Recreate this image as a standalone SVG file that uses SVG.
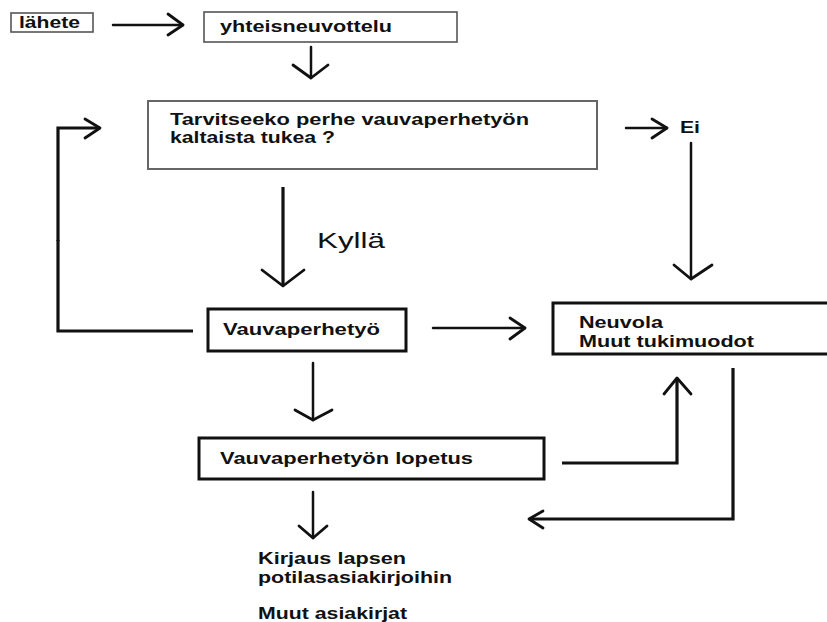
<svg xmlns="http://www.w3.org/2000/svg" width="827" height="622" viewBox="0 0 827 622">
<style>
.t{font-family:"Liberation Sans",Arial,sans-serif;font-weight:bold;font-size:16px;fill:#111}
.k{font-family:"Liberation Sans",Arial,sans-serif;font-size:22px;fill:#111}
.thin{fill:#fff;stroke:#555;stroke-width:1.6}
.mid{fill:#fff;stroke:#666;stroke-width:2}
.thick{fill:#fff;stroke:#111;stroke-width:3}
.c{fill:none;stroke:#111;stroke-width:2.5;stroke-linecap:round;stroke-linejoin:miter}
.c3{fill:none;stroke:#111;stroke-width:3.2;stroke-linejoin:miter}
.h{fill:none;stroke:#111;stroke-width:2.8;stroke-linecap:round;stroke-linejoin:round}
</style>
<rect width="827" height="622" fill="#fff"/>
<g id="connectors">
  <g id="c-lahete-yht"><path class="c" d="M113,25 H183"/><path class="h" d="M168,14 L183,25 L168,35"/></g>
  <g id="c-yht-tarv"><path class="c" d="M311,47 V78"/><path class="h" d="M293,65 L311,78 L328,65"/></g>
  <g id="c-kylla"><path class="c3" d="M283,187 V286"/><path class="h" d="M262,270 L283,286 L304,270"/></g>
  <g id="c-ei"><path class="c" d="M626,128 H667"/><path class="h" d="M652,119 L667,128 L652,138"/></g>
  <g id="c-ei-neuvola"><path class="c" d="M691,143 V279"/><path class="h" d="M674,265 L691,279 L712,265"/></g>
  <g id="c-loop"><path class="c3" d="M193,331 H58 V240" stroke-width="4"/><path class="c3" d="M58,241 V128 H100" stroke-width="2.8"/><path class="h" d="M85,119 L100,128 L85,138"/></g>
  <g id="c-vauva-neuvola"><path class="c" d="M433,328 H525"/><path class="h" d="M510,318 L525,328 L510,339"/></g>
  <g id="c-vauva-lopetus"><path class="c" d="M313,363 V420"/><path class="h" d="M295,410 L313,420 L332,410"/></g>
  <g id="c-lopetus-neuvola"><path class="c3" d="M562,463 H677 V378"/><path class="h" d="M664,394 L677,378 L691,394"/></g>
  <g id="c-neuvola-back"><path class="c3" d="M733,368 V519 H529"/><path class="h" d="M543,511 L529,519 L543,528"/></g>
  <g id="c-lopetus-kirjaus"><path class="c" d="M313,492 V538"/><path class="h" d="M299,526 L313,538 L327,526"/></g>
</g>
<g id="lahete"><rect class="thin" x="11" y="13" width="82" height="19"/><text class="t" x="19" y="28" textLength="61" lengthAdjust="spacingAndGlyphs">lähete</text></g>
<g id="yhteisneuvottelu"><rect class="thin" x="204" y="12" width="253" height="30"/><text class="t" x="220" y="32" textLength="172" lengthAdjust="spacingAndGlyphs">yhteisneuvottelu</text></g>
<g id="tarvitseeko"><rect class="mid" x="148" y="101" width="449" height="68"/>
  <text class="t" x="170" y="125" textLength="359" lengthAdjust="spacingAndGlyphs">Tarvitseeko perhe vauvaperhetyön</text>
  <text class="t" x="170" y="143" textLength="165" lengthAdjust="spacingAndGlyphs">kaltaista tukea ?</text></g>
<g id="kylla"><text class="k" x="317" y="248" textLength="68" lengthAdjust="spacingAndGlyphs">Kyllä</text></g>
<g id="ei"><text class="t" x="680" y="133" textLength="20" lengthAdjust="spacingAndGlyphs">Ei</text></g>
<g id="vauvaperhetyo"><rect class="thick" x="208" y="309" width="198" height="42"/><text class="t" x="223" y="335" textLength="157" lengthAdjust="spacingAndGlyphs">Vauvaperhetyö</text></g>
<g id="neuvola"><rect class="thick" x="553" y="303" width="280" height="51"/>
  <text class="t" x="579" y="328" textLength="84" lengthAdjust="spacingAndGlyphs">Neuvola</text>
  <text class="t" x="579" y="347" textLength="175" lengthAdjust="spacingAndGlyphs">Muut tukimuodot</text></g>
<g id="lopetus"><rect class="thick" x="199" y="438" width="345" height="41"/><text class="t" x="220" y="464" textLength="253" lengthAdjust="spacingAndGlyphs">Vauvaperhetyön lopetus</text></g>
<g id="kirjaus">
  <text class="t" x="258" y="564" textLength="148" lengthAdjust="spacingAndGlyphs">Kirjaus lapsen</text>
  <text class="t" x="258" y="583" textLength="194" lengthAdjust="spacingAndGlyphs">potilasasiakirjoihin</text>
  <text class="t" x="258" y="619" textLength="149" lengthAdjust="spacingAndGlyphs">Muut asiakirjat</text>
</g>
</svg>
